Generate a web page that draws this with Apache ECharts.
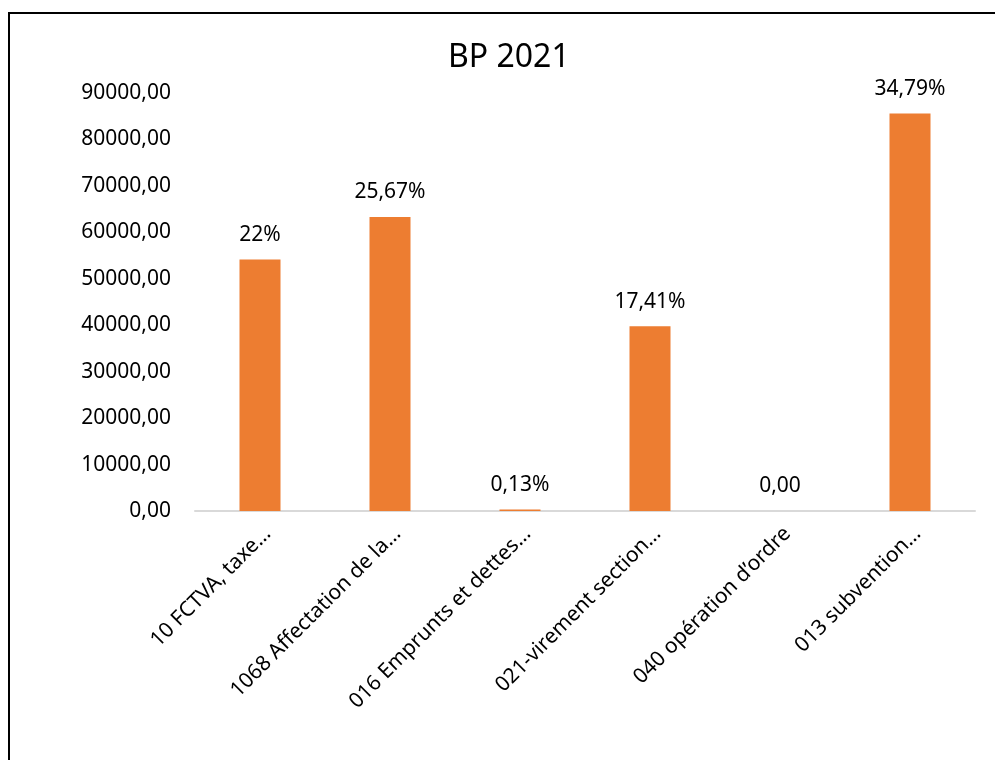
<!DOCTYPE html>
<html>
<head>
<meta charset="utf-8">
<script src="https://cdn.jsdelivr.net/npm/echarts@6/dist/echarts.min.js"></script>
<style>
  html, body { margin: 0; padding: 0; background: #fff; overflow: hidden; }
  #frame {
    position: absolute; left: 8px; top: 12px;
    width: 1100px; height: 900px;
    border: 2px solid #000;
  }
  #main { position: absolute; left: 0; top: 0; width: 995px; height: 760px; }
</style>
</head>
<body>
<div id="frame"></div>
<div id="main"></div>
<script>
// catégories (déjà tronquées comme dans le graphique d'origine)
var categories = [
  '10 FCTVA, taxe…',
  '1068 Affectation de la…',
  '016 Emprunts et dettes…',
  '021-virement section…',
  '040 opération d\u2019ordre',
  '013 subvention…'
];
var montants = [54130, 63300, 320, 39770, 0, 85560];
var etiquettes = ['22%', '25,67%', '0,13%', '17,41%', '0,00', '34,79%'];
var yTicks = [0, 10000, 20000, 30000, 40000, 50000, 60000, 70000, 80000, 90000];

var font = '"Noto Sans", "Open Sans", sans-serif';
var chart = echarts.init(document.getElementById('main'));

chart.setOption({
  animation: false,
  title: {
    text: 'BP 2021',
    left: 443,
    top: 37,
    textStyle: { fontFamily: font, fontSize: 32, fontWeight: 'normal', color: '#000' }
  },
  grid: { left: 195, right: 20, top: 93, bottom: 249 },
  xAxis: {
    type: 'category',
    data: categories,
    axisLine: { lineStyle: { color: '#d9d9d9', width: 2 } },
    axisTick: { show: false },
    axisLabel: {
      interval: 0,
      rotate: 45,
      margin: 12,
      verticalAlign: 'top',
      color: '#000',
      fontFamily: font,
      fontSize: 21
    }
  },
  yAxis: {
    type: 'value',
    min: yTicks[0],
    max: yTicks[yTicks.length - 1],
    interval: 10000,
    splitLine: { show: false },
    axisLine: { show: false },
    axisTick: { show: false },
    axisLabel: {
      margin: 24,
      color: '#000',
      fontFamily: font,
      fontSize: 21,
      formatter: function (v) { return v.toFixed(2).replace('.', ','); }
    }
  },
  series: [{
    type: 'bar',
    data: montants,
    barWidth: 41,
    itemStyle: { color: '#ed7d31' },
    label: {
      show: true,
      position: 'top',
      distance: 14,
      color: '#000',
      fontFamily: font,
      fontSize: 21,
      formatter: function (p) { return etiquettes[p.dataIndex]; }
    }
  }]
});
</script>
</body>
</html>
